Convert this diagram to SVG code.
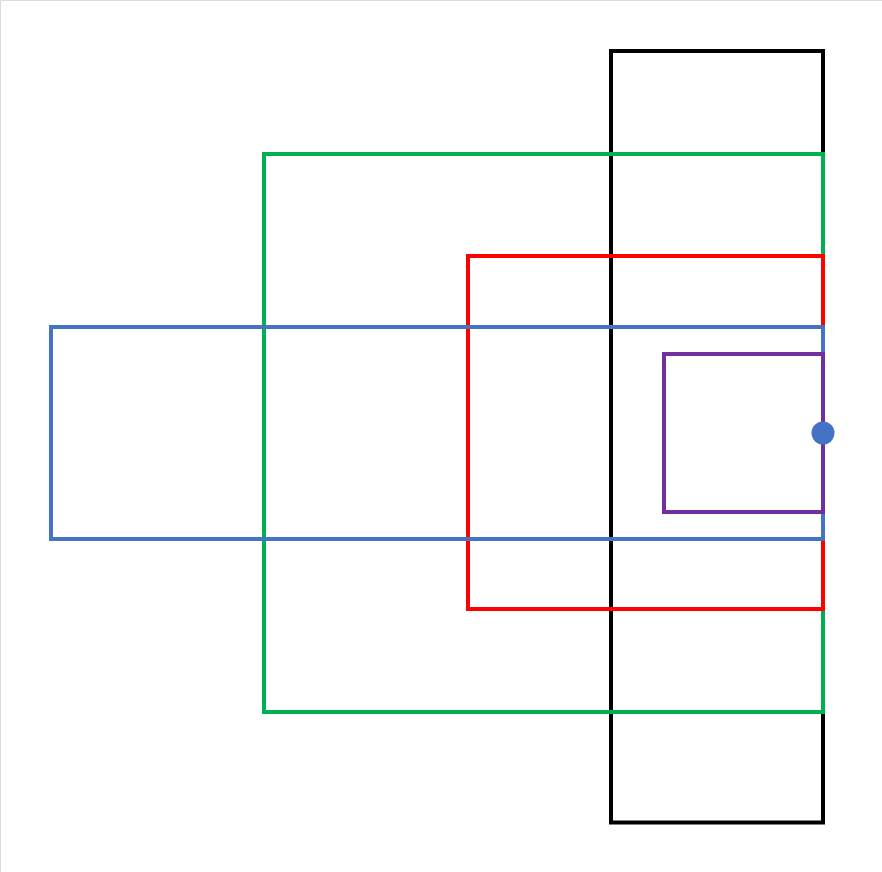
<svg xmlns="http://www.w3.org/2000/svg" width="882" height="872" viewBox="0 0 882 872">
<style>
.r{fill:none;stroke-width:4;stroke-linejoin:miter}
</style>
<rect width="882" height="872" fill="#fff"/>
<path d="M0.5,872V0.5H882" fill="none" stroke="#dcdcdc" stroke-width="1"/>
<g id="black"><rect class="r" x="611" y="51" width="212" height="771.5" stroke="#000"/></g>
<g id="green"><rect class="r" x="264" y="154" width="559" height="558" stroke="#00B050"/></g>
<g id="red"><rect class="r" x="468" y="256" width="355" height="353" stroke="#FF0000"/></g>
<g id="blue"><rect class="r" x="51" y="327" width="772" height="212" stroke="#4472C4"/></g>
<g id="purple"><rect class="r" x="664" y="354" width="159" height="158" stroke="#7030A0"/></g>
<g id="dot"><circle cx="823" cy="433" r="11.5" fill="#4472C4"/></g>
</svg>
